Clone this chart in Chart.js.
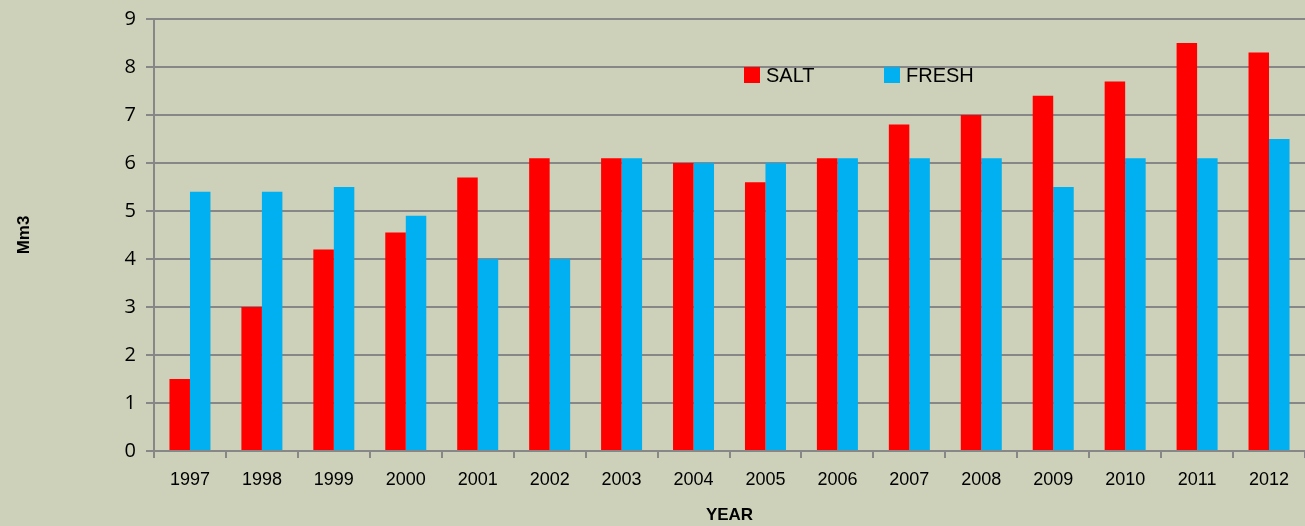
<!DOCTYPE html>
<html lang="en">
<head>
  <meta charset="UTF-8">
  <title>Salt and fresh water production</title>
  <script src="https://cdn.jsdelivr.net/npm/chart.js"></script>
  <style>
    html, body { margin: 0; padding: 0; background: #cdd1b9; }
    #wrap { width: 1305px; height: 526px; }
  </style>
</head>
<body>
  <div id="wrap"><canvas id="chart"></canvas></div>

  <script>
    // values (Mm3 per year)
    var years = ['1997', '1998', '1999', '2000', '2001', '2002', '2003', '2004',
                 '2005', '2006', '2007', '2008', '2009', '2010', '2011', '2012'];
    var salt  = [1.5, 3.0, 4.2, 4.55, 5.7, 6.1, 6.1, 6.0, 5.6, 6.1, 6.8, 7.0, 7.4, 7.7, 8.5, 8.3];
    var fresh = [5.4, 5.4, 5.5, 4.9, 4.0, 4.0, 6.1, 6.0, 6.0, 6.1, 6.1, 6.1, 5.5, 6.1, 6.1, 6.5];
    var yTicks = [0, 1, 2, 3, 4, 5, 6, 7, 8, 9];

    var gridGrey = '#878787';

    // legend sits inside the plot, like the original
    var insideLegend = {
      id: 'insideLegend',
      afterDraw: function(chart) {
        var ctx = chart.ctx;
        var spots = [744, 884];
        ctx.save();
        ctx.font = '20px "Liberation Sans", Arial, sans-serif';
        ctx.textBaseline = 'middle';
        chart.data.datasets.forEach(function(ds, i) {
          ctx.fillStyle = ds.backgroundColor;
          ctx.fillRect(spots[i], 67, 16, 16);
          ctx.fillStyle = '#000';
          ctx.fillText(ds.label, spots[i] + 22, 76);
        });
        ctx.restore();
      }
    };

    new Chart(document.getElementById('chart'), {
      type: 'bar',
      data: {
        labels: years,
        datasets: [
          { label: 'SALT', data: salt, backgroundColor: '#ff0000', borderWidth: 0 },
          { label: 'FRESH', data: fresh, backgroundColor: '#00b0f0', borderWidth: 0 }
        ]
      },
      options: {
        responsive: true,
        maintainAspectRatio: false,
        animation: false,
        layout: { padding: { top: 0, right: 0, left: 2, bottom: 0 } },
        datasets: { bar: { categoryPercentage: 0.57, barPercentage: 1.0 } },
        plugins: {
          legend: { display: false },
          tooltip: { enabled: false }
        },
        scales: {
          x: {
            offset: true,
            grid: { offset: true, drawOnChartArea: false, color: gridGrey, lineWidth: 2, tickLength: 7 },
            border: { color: gridGrey, width: 2 },
            ticks: { color: '#000', font: { family: '"Liberation Sans", Arial, sans-serif', size: 18 }, padding: 11, maxRotation: 0 },
            title: { display: true, text: 'YEAR', color: '#000', font: { family: '"Liberation Sans", Arial, sans-serif', size: 17, weight: 'bold' }, padding: { top: 8, bottom: 0 } },
            afterFit: function(s) { s.height = 75; }
          },
          y: {
            min: 0,
            max: 9,
            afterBuildTicks: function(s) { s.ticks = yTicks.map(function(v) { return { value: v }; }); },
            grid: { color: gridGrey, lineWidth: 2, tickLength: 8 },
            border: { color: gridGrey, width: 2 },
            ticks: { color: '#000', font: { family: '"Open Sans", "Liberation Sans", sans-serif', size: 20, lineHeight: 0.9 }, padding: 10 },
            title: { display: true, text: 'Mm3', color: '#000', font: { family: '"Liberation Sans", Arial, sans-serif', size: 17, weight: 'bold' }, padding: { top: 12, bottom: 0 } },
            afterFit: function(s) { s.width = 152; }
          }
        }
      },
      plugins: [insideLegend]
    });
  </script>
</body>
</html>
